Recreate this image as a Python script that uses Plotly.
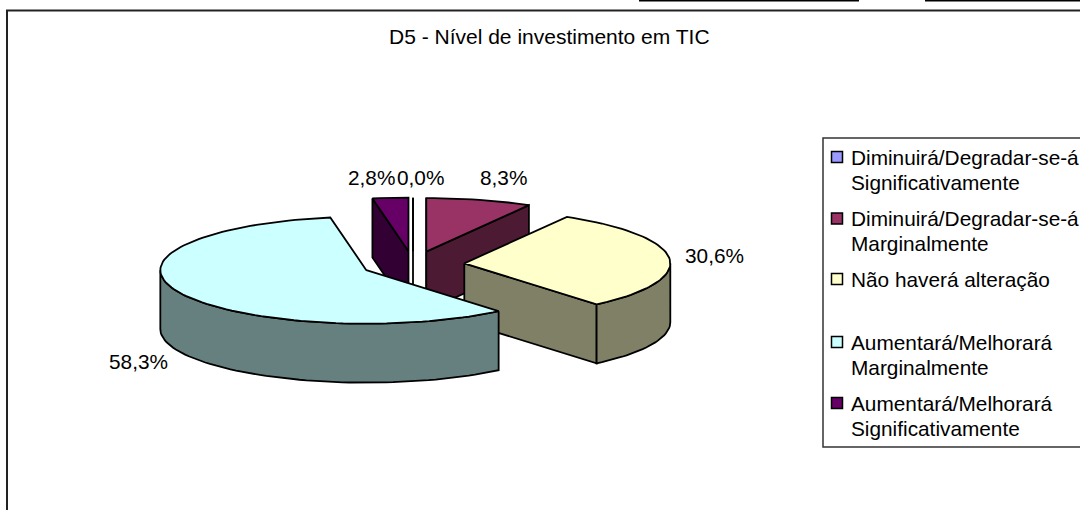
import math
import plotly.graph_objects as go

TITLE = "D5 - Nível de investimento em TIC"
categories = [
    "Diminuirá/Degradar-se-á<br>Significativamente",
    "Diminuirá/Degradar-se-á<br>Marginalmente",
    "Não haverá alteração",
    "Aumentará/Melhorará<br>Marginalmente",
    "Aumentará/Melhorará<br>Significativamente",
]
values = [0.0, 8.3, 30.6, 58.3, 2.8]
top_colors = ["#9999FF", "#993366", "#FFFFCC", "#CCFFFF", "#660066"]
wall_colors = ["#4D4D80", "#4D1A33", "#808066", "#668080", "#330033"]

# layout constants (pixels)
CX, CY, RX, RY, DEPTH, EXPLODE = 413, 264.5, 206, 53.5, 59, 0.25
LABEL_POS = [(420, 177), (503, 177), (714, 255), (138, 361), (371, 177)]
LEGEND_Y = [157, 218.5, 279, 342, 403]
LEGEND_LINE_GAP = 25
FONT = dict(family="Liberation Sans, Arial", size=20.8, color="#000000")
TITLE_FONT = dict(family="Liberation Sans, Arial", size=21, color="#000000")
LINE = dict(color="#000000", width=1.8)

fig = go.Figure()


def pt(ax, ay, deg, dz=0):
    t = math.radians(deg)
    return ax + RX * math.sin(t), ay - RY * math.cos(t) + dz


def poly(points, color):
    xs = [p[0] for p in points] + [points[0][0]]
    ys = [p[1] for p in points] + [points[0][1]]
    fig.add_trace(go.Scatter(x=xs, y=ys, mode="lines", fill="toself", fillcolor=color,
                             line=LINE, hoverinfo="skip", showlegend=False))


def arc(ax, ay, a0, a1, dz=0):
    n = max(1, int(abs(a1 - a0) / 2))
    return [pt(ax, ay, a0 + (a1 - a0) * i / n, dz) for i in range(n + 1)]


slices = []
total = sum(values)
acc = 0.0
for i, v in enumerate(values):
    a0 = acc / total * 360
    acc += v
    a1 = acc / total * 360
    mid = math.radians((a0 + a1) / 2)
    ax = CX + EXPLODE * RX * math.sin(mid)
    ay = CY - EXPLODE * RY * math.cos(mid)
    slices.append((ay, i, a0, a1, ax))

for ay, i, a0, a1, ax in sorted(slices, key=lambda s: s[0]):
    wall = wall_colors[i]
    # cut walls facing the viewer
    if math.sin(math.radians(a0)) <= 1e-9:
        p = pt(ax, ay, a0)
        poly([(ax, ay), p, (p[0], p[1] + DEPTH), (ax, ay + DEPTH)], wall)
    if math.sin(math.radians(a1)) > 1e-9:
        p = pt(ax, ay, a1)
        poly([(ax, ay), p, (p[0], p[1] + DEPTH), (ax, ay + DEPTH)], wall)
    # outer rim on the front half
    lo, hi = max(a0, 90), min(a1, 270)
    if hi > lo:
        poly(arc(ax, ay, lo, hi) + arc(ax, ay, hi, lo, DEPTH), wall)
    # top face
    poly([(ax, ay)] + arc(ax, ay, a0, a1), top_colors[i])

# legend swatches
fig.add_trace(go.Scatter(
    x=[837] * len(categories), y=LEGEND_Y, mode="markers", hoverinfo="skip", showlegend=False,
    marker=dict(symbol="square", size=11, color=top_colors, line=dict(color="#000000", width=1.5)),
))

annotations = [dict(x=549, y=36, text=TITLE, showarrow=False, font=TITLE_FONT,
                    xref="x", yref="y", xanchor="center", yanchor="middle")]
for v, (lx, ly) in zip(values, LABEL_POS):
    annotations.append(dict(x=lx, y=ly, text=f"{v:.1f}".replace(".", ",") + "%", showarrow=False,
                            font=FONT, xref="x", yref="y", xanchor="center", yanchor="middle"))
for name, ly in zip(categories, LEGEND_Y):
    for k, part in enumerate(name.split("<br>")):
        annotations.append(dict(x=849, y=ly + k * LEGEND_LINE_GAP, text=part, showarrow=False, font=FONT,
                                align="left", xref="x", yref="y", xanchor="left", yanchor="middle"))

shapes = [
    dict(type="line", x0=7, x1=7, y0=10, y1=510, line=dict(color="#222222", width=2)),
    dict(type="line", x0=6, x1=1080, y0=10.5, y1=10.5, line=dict(color="#222222", width=2)),
    dict(type="line", x0=639, x1=859, y0=0.5, y1=0.5, line=dict(color="#000000", width=2)),
    dict(type="line", x0=925, x1=1080, y0=0.5, y1=0.5, line=dict(color="#000000", width=2)),
    dict(type="rect", x0=823, x1=1100, y0=138, y1=447, line=dict(color="#333333", width=1.5),
         fillcolor="#FFFFFF", layer="below"),
]

fig.update_layout(
    width=1080, height=510, margin=dict(l=0, r=0, t=0, b=0),
    paper_bgcolor="#FFFFFF", plot_bgcolor="#FFFFFF", showlegend=False,
    xaxis=dict(range=[0, 1080], visible=False, fixedrange=True),
    yaxis=dict(range=[510, 0], visible=False, fixedrange=True),
    shapes=shapes, annotations=annotations,
)
fig.write_html("out.html", config=dict(displayModeBar=False),
               post_script="document.body.style.margin='0';document.body.style.overflow='hidden';")
